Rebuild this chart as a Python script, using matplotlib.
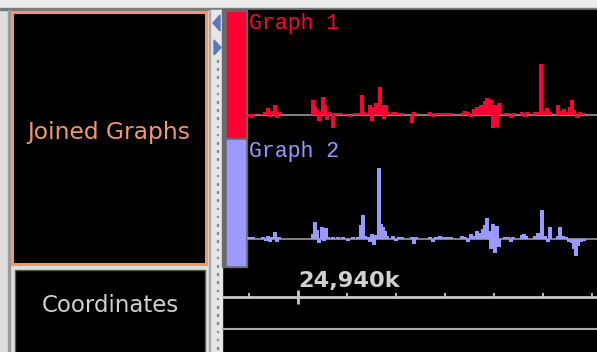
import matplotlib
matplotlib.use("Agg")
import matplotlib.pyplot as plt
from matplotlib.patches import Rectangle, Polygon

# ---- data (positions in kb, scores) ----
view_start, view_end = 24938.449, 24946.102
ruler_major = [24940]
ruler_minor = [24939, 24941, 24942, 24943, 24944, 24945, 24946]

g1_name = "Graph 1"
g1_pos = [24938.98, 24939.02, 24939.06, 24939.10, 24939.27, 24939.33, 24939.39, 24939.43,
          24939.47, 24939.53, 24939.57, 24939.61, 24940.31, 24940.35, 24940.39, 24940.43,
          24940.47, 24940.51, 24940.55, 24940.59, 24940.65, 24940.71, 24940.76, 24940.86,
          24940.96, 24941.06, 24941.16, 24941.27, 24941.31, 24941.35, 24941.41, 24941.47,
          24941.51, 24941.55, 24941.59, 24941.63, 24941.67, 24941.71, 24941.76, 24941.80,
          24941.84, 24941.94, 24942.00, 24942.06, 24942.12, 24942.33, 24942.37, 24942.41,
          24942.69, 24942.76, 24942.82, 24942.90, 24942.98, 24943.06, 24943.12, 24943.35,
          24943.41, 24943.47, 24943.53, 24943.59, 24943.65, 24943.69, 24943.73, 24943.78,
          24943.82, 24943.86, 24943.90, 24943.94, 24943.98, 24944.02, 24944.06, 24944.10,
          24944.22, 24944.29, 24944.35, 24944.41, 24944.57, 24944.63, 24944.67, 24944.84,
          24944.90, 24944.96, 24945.02, 24945.08, 24945.14, 24945.31, 24945.37, 24945.43,
          24945.49, 24945.55, 24945.59, 24945.63, 24945.69, 24945.76, 24945.82]
g1_val = [-0.2, 0.1, -0.3, 0.1, 0.1, 0.3, 0.7, -0.2,
          0.4, 1.0, -0.3, 0.3, 1.5, 0.8, 0.5, -0.6,
          0.3, 1.8, 1.0, -0.5, 0.3, -1.3, 0.2, 0.2,
          0.1, -0.2, 0.2, 0.2, 2.0, 0.3, 0.2, 1.0,
          -0.6, 0.8, 1.2, 0.5, 2.8, 1.0, -0.4, 1.0,
          0.3, 0.3, 0.3, 0.2, 0.2, -0.8, 0.3, 0.2,
          0.3, -0.2, 0.2, 0.2, 0.2, 0.2, 0.2, 0.2,
          0.4, 0.3, -0.2, 0.6, 0.8, 0.3, 1.0, 0.6,
          1.4, 1.7, 0.8, 1.5, -1.3, 1.0, -1.2, 1.2,
          0.2, 0.2, -0.3, 0.2, 0.3, -0.2, 0.3, 0.3,
          0.3, 5.1, 0.4, 0.7, 0.3, 1.0, 0.4, 0.6,
          0.3, 0.8, 1.5, 0.5, -0.3, 0.3, 0.2]

g2_name = "Graph 2"
g2_pos = [24938.96, 24939.02, 24939.08, 24939.29, 24939.35, 24939.39, 24939.43, 24939.47,
          24939.53, 24939.57, 24939.61, 24940.31, 24940.35, 24940.39, 24940.43, 24940.49,
          24940.53, 24940.57, 24940.61, 24940.71, 24940.82, 24940.92, 24941.02, 24941.12,
          24941.22, 24941.29, 24941.33, 24941.37, 24941.43, 24941.47, 24941.51, 24941.55,
          24941.59, 24941.65, 24941.69, 24941.73, 24941.78, 24941.82, 24941.94, 24942.00,
          24942.06, 24942.12, 24942.33, 24942.37, 24942.41, 24942.69, 24942.76, 24942.82,
          24942.90, 24942.98, 24943.06, 24943.12, 24943.35, 24943.41, 24943.47, 24943.53,
          24943.59, 24943.65, 24943.69, 24943.73, 24943.78, 24943.82, 24943.86, 24943.90,
          24943.94, 24943.98, 24944.02, 24944.06, 24944.10, 24944.22, 24944.29, 24944.35,
          24944.39, 24944.57, 24944.61, 24944.65, 24944.84, 24944.90, 24944.94, 24944.98,
          24945.04, 24945.10, 24945.14, 24945.31, 24945.35, 24945.41, 24945.47, 24945.53,
          24945.59, 24945.63, 24945.67, 24945.71, 24945.78, 24945.84]
g2_val = [0.2, 0.2, 0.2, 0.2, -0.2, 0.3, -0.3, 0.2,
          0.7, -0.3, 0.2, 0.5, 1.7, 0.9, -0.4, 1.2,
          -0.2, 1.1, 0.2, 0.2, 0.2, 0.2, -0.2, 0.2,
          0.2, 1.4, 2.4, 0.3, 0.2, -0.3, 0.5, -0.6,
          0.4, 7.1, 1.5, 1.2, 0.8, 0.3, 0.3, -0.2,
          0.2, 0.2, 0.2, -0.5, 0.2, 0.2, -0.3, 0.2,
          0.3, 0.2, 0.2, 0.2, 0.3, 0.2, -0.3, 0.5,
          0.3, 0.8, 0.4, 0.6, 1.0, 1.4, 2.1, 0.8,
          -1.0, 1.5, -1.4, 1.3, -0.8, 0.2, 0.2, -0.3,
          0.2, 0.4, 0.5, 0.3, 0.3, 0.6, 0.6, 2.9,
          0.3, -0.3, 1.2, 0.3, 1.2, 0.3, 0.2, -0.3,
          -0.4, -1.0, -1.7, -0.7, -0.3, -0.2]

RED = "#ff0033"
BLUE = "#9999ff"
ORANGE = "#f09868"

W, H = 597, 352
fig = plt.figure(figsize=(W / 100, H / 100), dpi=100)
fig.patch.set_facecolor("#dedede")


def px_axes(x0, y0, x1, y1, z):
    ax = fig.add_axes([x0 / W, 1 - y1 / H, (x1 - x0) / W, (y1 - y0) / H])
    ax.set_zorder(z)
    ax.patch.set_alpha(0)
    ax.set_axis_off()
    return ax


# ---- window chrome (pixel coordinates) ----
bg = px_axes(0, 0, W, H, 0)
bg.set_xlim(0, W)
bg.set_ylim(H, 0)
bg.add_patch(Rectangle((0, 0), W, 8, color="#ececec"))
bg.add_patch(Rectangle((0, 8), W, 2, color="#7a7a7a"))
bg.add_patch(Rectangle((8, 10), 2, H, color="#9a9a9a"))
bg.add_patch(Rectangle((222, 10), W - 222, H, color="black"))

# left label panel
bg.add_patch(Rectangle((12, 12), 194, 252, facecolor="black", edgecolor=ORANGE, lw=2.2))
bg.text(109, 133, "Joined Graphs", color=ORANGE, fontsize=16.8,
        family="DejaVu Sans", ha="center", va="center")
bg.add_patch(Rectangle((15, 270), 190, 90, facecolor="black", edgecolor="#5a5a5a", lw=1))
bg.text(110, 306, "Coordinates", color="#d0d0d0", fontsize=16.5,
        family="DejaVu Sans", ha="center", va="center")

# splitter
bg.add_patch(Rectangle((209, 10), 13, H, color="#e6e6e6"))
bg.add_patch(Rectangle((209, 10), 1, H, color="#a8a8a8"))
for k in range(37):
    bg.add_patch(Rectangle((216.5, 60 + k * 8.2), 1.5, 1.5, color="#8a8a8a"))
bg.add_patch(Polygon([(220, 15), (220, 31), (213, 23)], color="#5a78c0"))
bg.add_patch(Polygon([(214, 40), (214, 55), (221, 47.5)], color="#5a78c0"))

# graph handles
bg.add_patch(Rectangle((222, 10), 25, 257, color="#6a6a6a"))
bg.add_patch(Rectangle((227, 12), 18, 125, color=RED))
bg.add_patch(Rectangle((227, 140), 18, 125, color=BLUE))

# ---- graph tracks ----
tracks = [
    (g1_name, g1_pos, g1_val, RED, (12, 137), (-2.2, 10.3)),
    (g2_name, g2_pos, g2_val, BLUE, (140, 265), (-2.6, 9.9)),
]
for name, pos, val, col, (y0, y1), ylim in tracks:
    ax = px_axes(247, y0, W, y1, 1)
    ax.set_xlim(24938.959, view_end)
    ax.set_ylim(*ylim)
    ax.axhline(0, color="#8c8c8c", lw=1.3, zorder=1)
    ax.bar(pos, val, width=0.075, color=col, linewidth=0, zorder=2)
    ax.text(0.005, 0.995, name, transform=ax.transAxes, color=col, fontsize=15.5,
            family="Liberation Mono", ha="left", va="top")

# ---- ruler ----
ru = px_axes(222, 265, W, H, 1)
ru.set_xlim(view_start, view_end)
ru.set_ylim(H, 265)
ru.axhline(297, color="#c8c8c8", lw=2)
ru.axhline(329, color="#a8a8a8", lw=1.5)
ru.vlines(ruler_minor, 293, 297, color="#c8c8c8", lw=1.3)
ru.vlines(ruler_major, 290, 304, color="#c8c8c8", lw=2)
for t in ruler_major:
    ru.text(t, 287, f"{t:,}k", color="#d0d0d0", fontsize=16.2, weight="bold",
            family="DejaVu Sans", ha="left", va="baseline")

fig.savefig("out.png", dpi=100, facecolor=fig.get_facecolor())
